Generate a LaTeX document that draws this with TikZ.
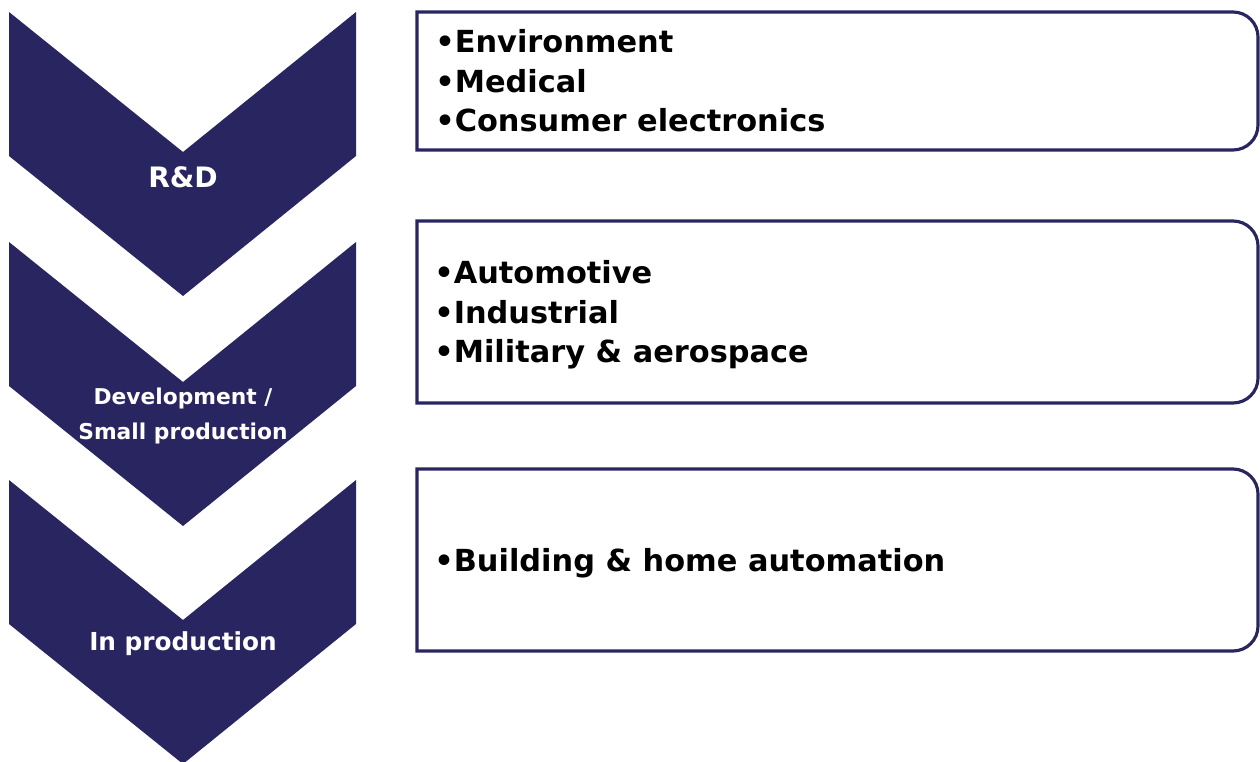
\documentclass[tikz,border=0pt]{standalone}
\usepackage{fontspec}
\setmainfont{DejaVu Sans}
\usepackage{tikz}
\usetikzlibrary{positioning}
\definecolor{navy}{RGB}{40,37,96}

\tikzset{
  chevron/.style={fill=navy},
  chevlabel/.style={text=white,align=center},
  listbox/.style={draw=navy,line width=1.8pt},
  listtext/.style={anchor=west,align=left,inner sep=0pt,font=\bfseries\fontsize{17.3}{22.4}\selectfont}
}

\begin{document}
\begin{tikzpicture}[x=0.02cm,y=0.02cm]
\useasboundingbox (0,0) rectangle (1260,-761);
% chevrons
\fill[chevron](9,-12)--(183,-152)--(356,-12)--(356,-156)--(183,-296)--(9,-156)--cycle;
\fill[chevron](9,-242)--(183,-382)--(356,-242)--(356,-386)--(183,-526)--(9,-386)--cycle;
\fill[chevron](9,-480)--(183,-620)--(356,-480)--(356,-624)--(183,-764)--(9,-624)--cycle;
\node[chevlabel,font=\bfseries\fontsize{16}{19}\selectfont] (rdlabel) at (183,-177) {R\&D};
\node[chevlabel,font=\bfseries\fontsize{12.4}{19.5}\selectfont] (devlabel) at (183,-416) {Development /\\Small production};
\node[chevlabel,font=\bfseries\fontsize{14.1}{17}\selectfont] (prodlabel) at (183,-644) {In production};
% boxes
\draw[listbox](417,-150)--(417,-12)--(1233,-12)arc[start angle=90,end angle=0,radius=25]--(1258,-125)arc[start angle=0,end angle=-90,radius=25]--cycle;
\draw[listbox](417,-403)--(417,-221)--(1233,-221)arc[start angle=90,end angle=0,radius=25]--(1258,-378)arc[start angle=0,end angle=-90,radius=25]--cycle;
\draw[listbox](417,-651)--(417,-469)--(1233,-469)arc[start angle=90,end angle=0,radius=25]--(1258,-626)arc[start angle=0,end angle=-90,radius=25]--cycle;
\node[listtext] (rdlist) at (435,-81) {•Environment\\•Medical\\•Consumer electronics};
\node[listtext] (devlist) at (434,-315) {•Automotive\\•Industrial\\•Military \& aerospace};
\node[listtext] (prodlist) at (434,-563) {•Building \& home automation};
\end{tikzpicture}
\end{document}
